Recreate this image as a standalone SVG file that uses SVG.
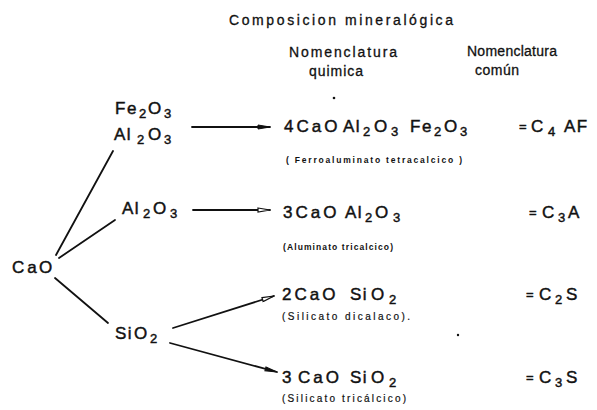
<svg xmlns="http://www.w3.org/2000/svg" width="597" height="410" viewBox="0 0 597 410">
<defs>
<style>
text{font-family:"Liberation Sans",Arial,sans-serif;fill:#111}
.f{font-size:17px;letter-spacing:1.5px;stroke:#111;stroke-width:0.45}
.w{letter-spacing:3px}
.s{font-size:13px;letter-spacing:1px}
.eq{font-size:13px}
.h{font-size:14px;stroke:#111;stroke-width:0.3}
.sm{font-size:8.5px;font-weight:bold}
.sm2{font-size:10px;stroke:#111;stroke-width:0.2}
.ln{stroke:#111;stroke-width:1.8;fill:none;stroke-linecap:round}
</style>
<marker id="ah" viewBox="0 0 14 6" refX="13" refY="3" markerWidth="14" markerHeight="6" markerUnits="userSpaceOnUse" orient="auto">
<path d="M1,1 L13,3 L1,5 Z" fill="#111" stroke="#111" stroke-width="1"/>
</marker>
<marker id="ao" viewBox="0 0 14 6" refX="13" refY="3" markerWidth="14" markerHeight="6" markerUnits="userSpaceOnUse" orient="auto">
<path d="M1,1 L13,3 L1,5 Z" fill="#fff" stroke="#111" stroke-width="1.2"/>
</marker>
</defs>
<rect width="597" height="410" fill="#fff"/>

<g id="header">
<text class="h" x="229" y="25" textLength="224" lengthAdjust="spacing">Composicion mineralógica</text>
<text class="h" x="289" y="57" textLength="108" lengthAdjust="spacing">Nomenclatura</text>
<text class="h" x="309" y="76" textLength="54" lengthAdjust="spacing">quimica</text>
<text class="h" x="467" y="56" textLength="90" lengthAdjust="spacing">Nomenclatura</text>
<text class="h" x="475" y="75" textLength="44" lengthAdjust="spacing">común</text>
</g>

<g id="connectors">
<line class="ln" x1="56" y1="255" x2="113" y2="151"/>
<line class="ln" x1="59" y1="258" x2="115" y2="220"/>
<line class="ln" x1="55" y1="278" x2="108" y2="323"/>
<line class="ln" x1="192" y1="127" x2="270" y2="127" marker-end="url(#ah)"/>
<line class="ln" x1="193" y1="210" x2="270" y2="210" marker-end="url(#ao)"/>
<line class="ln" x1="173" y1="328" x2="274" y2="296" marker-end="url(#ao)"/>
<line class="ln" x1="170" y1="343" x2="277" y2="372" marker-end="url(#ah)"/>
</g>

<g id="cao">
<text class="f" y="273"><tspan class="w" x="12">Ca</tspan><tspan x="39">O</tspan></text>
</g>

<g id="fe2o3-al2o3">
<text class="f"><tspan x="115" y="114">Fe</tspan><tspan class="s" x="139" y="118">2</tspan><tspan x="148" y="114">O</tspan><tspan class="s" x="164" y="118">3</tspan></text>
<text class="f"><tspan x="114" y="140">Al</tspan><tspan class="s" x="137" y="144">2</tspan><tspan x="148" y="140">O</tspan><tspan class="s" x="164" y="144">3</tspan></text>
</g>

<g id="al2o3">
<text class="f"><tspan x="122" y="214">Al</tspan><tspan class="s" x="143" y="218">2</tspan><tspan x="153" y="214">O</tspan><tspan class="s" x="170" y="218">3</tspan></text>
</g>

<g id="sio2">
<text class="f"><tspan x="115" y="339">Si</tspan><tspan x="134" y="339">O</tspan><tspan class="s" x="150" y="343">2</tspan></text>
</g>

<g id="c4af">
<text class="f"><tspan class="w" x="284" y="132">4CaO</tspan><tspan x="343" y="132">Al</tspan><tspan class="s" x="363" y="136">2</tspan><tspan x="374" y="132">O</tspan><tspan class="s" x="391" y="136">3</tspan><tspan x="410" y="132">Fe</tspan><tspan class="s" x="434" y="136">2</tspan><tspan x="444" y="132">O</tspan><tspan class="s" x="460" y="136">3</tspan></text>
<text class="sm" x="286" y="163" textLength="176" lengthAdjust="spacing">( Ferroaluminato tetracalcico )</text>
<text class="f"><tspan class="eq" x="519" y="131">=</tspan><tspan x="531" y="132">C</tspan><tspan class="s" x="548" y="136">4</tspan><tspan x="564" y="132">AF</tspan></text>
</g>

<g id="c3a">
<text class="f"><tspan class="w" x="283" y="218">3CaO</tspan><tspan x="345" y="218">Al</tspan><tspan class="s" x="365" y="222">2</tspan><tspan x="375" y="218">O</tspan><tspan class="s" x="393" y="222">3</tspan></text>
<text class="sm" x="283" y="250" textLength="110" lengthAdjust="spacing">(Aluminato tricalcico)</text>
<text class="f"><tspan class="eq" x="529" y="217">=</tspan><tspan x="542" y="218">C</tspan><tspan class="s" x="558" y="222">3</tspan><tspan x="568" y="218">A</tspan></text>
</g>

<g id="c2s">
<text class="f"><tspan class="w" x="282" y="300">2CaO</tspan><tspan x="350" y="300">Si</tspan><tspan x="371" y="300">O</tspan><tspan class="s" x="389" y="304">2</tspan></text>
<text class="sm2" x="282" y="320" textLength="128" lengthAdjust="spacing">(Silicato dicalaco).</text>
<text class="f"><tspan class="eq" x="526" y="299">=</tspan><tspan x="539" y="300">C</tspan><tspan class="s" x="555" y="304">2</tspan><tspan x="566" y="300">S</tspan></text>
</g>

<g id="c3s">
<text class="f"><tspan x="282" y="383">3</tspan><tspan class="w" x="298" y="383">CaO</tspan><tspan x="350" y="383">Si</tspan><tspan x="371" y="383">O</tspan><tspan class="s" x="389" y="387">2</tspan></text>
<text class="sm2" x="282" y="402" textLength="124" lengthAdjust="spacing">(Silicato tricálcico)</text>
<text class="f"><tspan class="eq" x="526" y="382">=</tspan><tspan x="539" y="383">C</tspan><tspan class="s" x="555" y="387">3</tspan><tspan x="566" y="383">S</tspan></text>
</g>

<g id="specks" fill="#111">
<circle cx="334" cy="98" r="1.3"/>
<circle cx="458" cy="335" r="1.2"/>
</g>
</svg>
